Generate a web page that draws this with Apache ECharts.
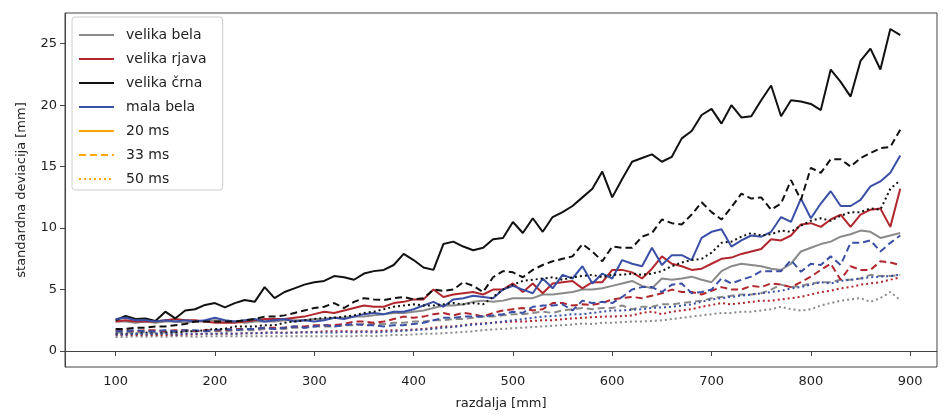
<!DOCTYPE html>
<html>
<head>
<meta charset="utf-8">
<script src="https://cdn.jsdelivr.net/npm/echarts@6/dist/echarts.min.js"></script>
<style>
html,body{margin:0;padding:0;background:#fff;}
#chart{width:947px;height:417px;}
</style>
</head>
<body>
<div id="chart"></div>
<script>
const distances = [100,110,120,130,140,150,160,170,180,190,
  200,210,220,230,240,250,260,270,280,290,
  300,310,320,330,340,350,360,370,380,390,
  400,410,420,430,440,450,460,470,480,490,
  500,510,520,530,540,550,560,570,580,590,
  600,610,620,630,640,650,660,670,680,690,
  700,710,720,730,740,750,760,770,780,790,
  800,810,820,830,840,850,860,870,880,890];

const xTicks = [100,200,300,400,500,600,700,800,900];
const yTicks = [0,5,10,15,20,25];

// velika bela
const belaV20 = [2.4,2.4,2.3,2.4,2.3,2.4,2.4,2.3,2.4,2.4,
  2.5,2.4,2.4,2.3,2.4,2.4,2.4,2.5,2.5,2.5,
  2.6,2.6,2.7,2.7,2.8,2.8,2.9,3.0,3.1,3.1,
  3.2,3.3,3.5,3.7,3.7,3.8,4.0,4.1,4.0,4.1,
  4.3,4.3,4.3,4.6,4.6,4.7,4.8,5.0,5.0,5.1,
  5.3,5.5,5.7,5.3,5.1,5.9,5.8,5.9,6.05,5.8,
  5.6,6.5,6.9,7.1,7.0,6.9,6.7,6.6,7.1,8.1,
  8.4,8.7,8.9,9.3,9.5,9.8,9.7,9.2,9.4,9.6];
const belaV33 = [1.5,1.5,1.5,1.5,1.5,1.5,1.5,1.6,1.6,1.6,
  1.6,1.6,1.7,1.7,1.7,1.8,1.8,1.8,1.9,1.9,
  2.0,2.0,2.0,2.1,2.1,2.2,2.2,2.2,2.3,2.3,
  2.4,2.4,2.5,2.5,2.6,2.6,2.7,2.8,2.8,2.9,
  3.0,3.0,3.1,3.2,3.1,3.3,3.4,3.5,3.4,3.5,
  3.5,3.7,3.4,3.6,3.6,3.8,3.8,3.9,4.0,4.1,
  4.3,4.4,4.5,4.6,4.6,4.7,5.0,5.4,5.2,5.3,
  5.5,5.6,5.6,5.8,5.8,5.9,6.2,6.1,6.1,6.2];
const belaV50 = [1.15,1.15,1.2,1.15,1.2,1.15,1.2,1.2,1.15,1.2,
  1.2,1.2,1.2,1.2,1.2,1.2,1.2,1.2,1.2,1.2,
  1.2,1.2,1.2,1.2,1.2,1.25,1.2,1.25,1.3,1.3,
  1.35,1.4,1.4,1.45,1.5,1.55,1.6,1.7,1.75,1.8,
  1.85,1.9,1.95,2.0,2.05,2.1,2.15,2.25,2.2,2.3,
  2.3,2.35,2.4,2.4,2.45,2.5,2.6,2.7,2.8,2.9,
  3.0,3.1,3.1,3.2,3.2,3.3,3.4,3.6,3.4,3.3,
  3.4,3.7,3.9,4.1,4.2,4.3,4.0,4.3,4.8,4.15];

// velika rjava
const rjavaV20 = [2.4,2.5,2.4,2.4,2.4,2.5,2.6,2.5,2.5,2.4,
  2.3,2.3,2.3,2.4,2.5,2.6,2.6,2.6,2.7,2.8,
  3.0,3.2,3.1,3.3,3.5,3.7,3.6,3.6,3.9,4.0,
  4.2,4.2,5.0,4.4,4.6,4.7,4.8,4.6,5.0,5.0,
  5.5,4.8,5.5,4.7,5.5,5.6,5.7,5.1,5.6,5.6,
  6.6,6.6,6.4,5.9,6.7,7.7,7.1,6.9,6.6,6.7,
  7.1,7.5,7.6,7.9,8.1,8.3,9.1,9.0,9.4,10.3,
  10.4,10.1,10.7,11.1,10.1,11.1,11.5,11.6,10.1,13.2];
const rjavaV33 = [1.7,1.7,1.6,1.7,1.7,1.6,1.7,1.7,1.6,1.7,
  1.7,1.7,1.8,1.8,1.8,1.9,1.9,1.9,2.0,2.0,
  2.1,2.1,2.1,2.2,2.4,2.4,2.3,2.4,2.6,2.8,
  2.7,2.8,3.0,3.1,2.9,3.1,3.0,2.8,3.1,3.3,
  3.4,3.5,3.3,3.4,3.9,3.9,3.7,3.8,3.75,3.9,
  4.2,4.3,4.4,4.3,4.5,4.7,5.0,4.8,4.8,4.6,
  4.9,5.2,5.0,5.0,5.3,5.2,5.5,5.4,5.2,5.6,
  6.05,6.6,7.1,5.8,6.9,6.6,6.6,7.3,7.2,7.0];
const rjavaV50 = [1.3,1.3,1.3,1.3,1.3,1.3,1.3,1.35,1.35,1.4,
  1.4,1.4,1.4,1.45,1.45,1.5,1.5,1.5,1.5,1.55,
  1.55,1.6,1.6,1.6,1.6,1.6,1.6,1.65,1.7,1.7,
  1.75,1.8,1.9,2.0,2.0,2.1,2.2,2.25,2.3,2.35,
  2.4,2.4,2.45,2.5,2.5,2.6,2.65,2.7,2.75,2.8,
  2.8,2.85,2.9,3.1,3.2,3.0,3.2,3.3,3.4,3.6,
  3.75,3.9,3.8,3.9,4.0,4.1,4.1,4.2,4.3,4.4,
  4.6,4.8,4.9,5.1,5.2,5.4,5.5,5.6,5.8,6.0];

// velika črna
const crnaV20 = [2.5,2.85,2.6,2.65,2.45,3.2,2.65,3.3,3.4,3.75,
  3.9,3.55,3.9,4.15,4.0,5.2,4.3,4.8,5.1,5.4,
  5.6,5.7,6.1,6.0,5.8,6.3,6.5,6.6,7.0,7.9,
  7.4,6.8,6.6,8.7,8.9,8.5,8.2,8.4,9.1,9.2,
  10.5,9.6,10.8,9.7,10.9,11.3,11.8,12.5,13.2,14.6,
  12.5,14.0,15.4,15.7,16.0,15.4,15.8,17.3,17.9,19.2,
  19.7,18.5,20.0,19.0,19.1,20.4,21.6,19.1,20.4,20.3,
  20.1,19.6,22.9,21.9,20.7,23.6,24.6,22.9,26.2,25.7];
const crnaV33 = [1.8,1.8,1.9,1.9,2.0,2.0,2.1,2.2,2.4,2.4,
  2.4,2.4,2.4,2.5,2.6,2.8,2.8,2.9,3.1,3.3,
  3.5,3.6,3.9,3.5,4.0,4.3,4.2,4.15,4.3,4.4,
  4.2,4.3,5.0,4.9,5.0,5.6,5.3,4.8,6.0,6.5,
  6.4,6.0,6.6,7.0,7.3,7.5,7.7,8.7,8.1,7.3,
  8.5,8.4,8.4,9.3,9.6,10.7,10.4,10.3,11.1,12.1,
  11.3,10.7,11.7,12.8,12.4,12.5,11.5,12.0,13.9,12.3,
  14.9,14.5,15.6,15.6,15.0,15.7,16.1,16.5,16.6,18.0];
const crnaV50 = [1.4,1.4,1.4,1.5,1.4,1.5,1.5,1.6,1.6,1.7,
  1.8,1.8,2.0,2.0,2.0,2.1,2.1,2.3,2.4,2.5,
  2.6,2.7,2.7,2.8,2.9,3.1,3.2,3.4,3.6,3.7,
  3.8,3.7,3.7,3.8,3.9,3.8,3.9,3.8,4.4,5.0,
  5.4,5.7,5.8,5.9,6.0,5.8,6.0,6.1,6.2,6.0,
  6.2,6.2,6.3,6.2,6.3,6.5,6.9,7.2,7.4,7.5,
  8.0,8.8,8.9,9.3,9.6,9.4,9.5,9.8,9.7,10.2,
  10.6,10.8,10.6,11.0,11.3,11.3,11.6,11.5,13.2,13.9];

// mala bela
const malaV20 = [2.6,2.7,2.5,2.5,2.4,2.5,2.4,2.5,2.4,2.5,
  2.7,2.5,2.4,2.5,2.6,2.4,2.5,2.6,2.4,2.5,
  2.4,2.5,2.7,2.6,2.8,3.0,3.1,3.0,3.2,3.2,
  3.4,3.7,4.0,3.6,4.2,4.3,4.5,4.4,4.3,5.0,
  5.3,5.0,4.7,5.9,5.1,6.2,5.9,6.9,5.5,6.3,
  5.9,7.4,7.1,6.9,8.4,7.0,7.8,7.8,7.4,9.2,
  9.7,9.9,8.5,9.0,9.4,9.3,9.7,10.9,10.5,12.4,
  10.8,12.0,13.0,11.8,11.8,12.3,13.4,13.8,14.5,15.9];
const malaV33 = [1.6,1.6,1.7,1.6,1.6,1.7,1.6,1.7,1.7,1.6,
  1.7,1.8,1.7,1.8,1.8,1.9,1.8,1.9,2.0,1.9,
  2.0,2.1,2.0,2.1,2.2,2.1,2.1,2.0,2.1,2.1,
  2.2,2.3,2.5,2.7,2.7,2.8,2.8,2.8,2.9,3.0,
  3.2,3.1,3.6,3.7,3.7,3.8,3.3,4.1,3.9,4.0,
  3.9,4.4,5.0,5.2,5.2,4.8,5.4,5.5,4.7,4.8,
  5.0,5.9,5.5,5.8,6.05,6.5,6.5,6.5,7.4,6.45,
  7.1,7.0,7.7,7.0,8.8,8.8,9.0,8.1,8.8,9.4];
const malaV50 = [1.35,1.35,1.4,1.35,1.4,1.4,1.35,1.4,1.4,1.4,
  1.4,1.45,1.4,1.45,1.45,1.45,1.5,1.45,1.5,1.5,
  1.5,1.5,1.5,1.55,1.5,1.55,1.5,1.55,1.6,1.65,
  1.7,1.75,1.8,1.9,1.95,2.05,2.15,2.2,2.3,2.4,
  2.5,2.6,2.7,2.8,2.85,2.9,3.0,3.0,3.1,3.2,
  3.3,3.3,3.35,3.4,3.5,3.55,3.6,3.7,3.8,4.0,
  4.2,4.3,4.4,4.5,4.6,4.7,4.8,4.9,5.1,5.2,
  5.4,5.6,5.5,5.7,5.8,5.9,6.0,6.05,6.1,6.2];

const colors = { bela: '#8a8a8a', rjava: '#b2272d', crna: '#111111', mala: '#3a4fa6', ms: '#ffa500' };
const dashTypes = { solid: 'solid', dashed: [7, 4], dotted: [2, 3] };

const font = 'DejaVu Sans, sans-serif';

const groups = [
  { key: 'bela', vals: [belaV20, belaV33, belaV50] },
  { key: 'rjava', vals: [rjavaV20, rjavaV33, rjavaV50] },
  { key: 'crna', vals: [crnaV20, crnaV33, crnaV50] },
  { key: 'mala', vals: [malaV20, malaV33, malaV50] }
];
const styleKeys = ['solid', 'dashed', 'dotted'];

const series = [];
styleKeys.forEach((sk, si) => {
  groups.forEach(g => {
    series.push({
      name: g.key + '_' + sk,
      type: 'line',
      showSymbol: false,
      symbol: 'none',
      silent: true,
      lineStyle: { color: colors[g.key], width: 2, type: dashTypes[sk] },
      data: distances.map((d, i) => [d, g.vals[si][i]]),
      z: 3
    });
  });
});

const legendItems = [
  { name: 'velika bela', color: colors.bela, type: 'solid' },
  { name: 'velika rjava', color: colors.rjava, type: 'solid' },
  { name: 'velika črna', color: colors.crna, type: 'solid' },
  { name: 'mala bela', color: colors.mala, type: 'solid' },
  { name: '20 ms', color: colors.ms, type: 'solid' },
  { name: '33 ms', color: colors.ms, type: 'dashed' },
  { name: '50 ms', color: colors.ms, type: 'dotted' }
];
legendItems.forEach(it => {
  series.push({
    name: it.name,
    type: 'line',
    symbol: 'none',
    showSymbol: false,
    itemStyle: { color: it.color },
    lineStyle: { color: it.color, width: 2, type: dashTypes[it.type] },
    data: []
  });
});

const chart = echarts.init(document.getElementById('chart'), null, { renderer: 'canvas' });
chart.setOption({
  animation: false,
  backgroundColor: '#ffffff',
  grid: { left: 65, right: 10, top: 13, bottom: 50, show: true, borderColor: '#444', borderWidth: 1, backgroundColor: 'transparent' },
  legend: {
    data: legendItems.map(it => it.name),
    orient: 'vertical',
    left: 72,
    top: 17,
    padding: [11, 16, 4, 6],
    itemWidth: 35,
    itemHeight: 14,
    itemGap: 10,
    selectedMode: false,
    itemStyle: { color: 'rgba(0,0,0,0)', borderColor: 'rgba(0,0,0,0)', borderWidth: 0, opacity: 0 },
    backgroundColor: 'rgba(255,255,255,0.85)',
    borderColor: '#cccccc',
    borderWidth: 1,
    borderRadius: 3,
    textStyle: { fontFamily: font, fontSize: 14, color: '#222', lineHeight: 14, padding: [0, 0, 0, 7] }
  },
  xAxis: {
    type: 'value',
    min: 49,
    max: 927,
    axisLine: { show: true, lineStyle: { color: '#444' } },
    splitLine: { show: false },
    axisTick: { show: true, length: 5, lineStyle: { color: '#444' }, customValues: xTicks },
    axisLabel: { customValues: xTicks, fontFamily: font, fontSize: 13, color: '#222', margin: 8 },
    name: 'razdalja [mm]',
    nameLocation: 'middle',
    nameGap: 30,
    nameTextStyle: { fontFamily: font, fontSize: 13, color: '#222' }
  },
  yAxis: {
    type: 'value',
    min: -1.3,
    max: 27.5,
    axisLine: { show: true, lineStyle: { color: '#444' } },
    splitLine: { show: false },
    axisTick: { show: true, length: 5, lineStyle: { color: '#444' }, customValues: yTicks },
    axisLabel: { customValues: yTicks, fontFamily: font, fontSize: 13, color: '#222', margin: 8 },
    name: 'standardna deviacija [mm]',
    nameLocation: 'middle',
    nameGap: 37,
    nameTextStyle: { fontFamily: font, fontSize: 13, color: '#222' }
  },
  series: series
});
</script>
</body>
</html>
